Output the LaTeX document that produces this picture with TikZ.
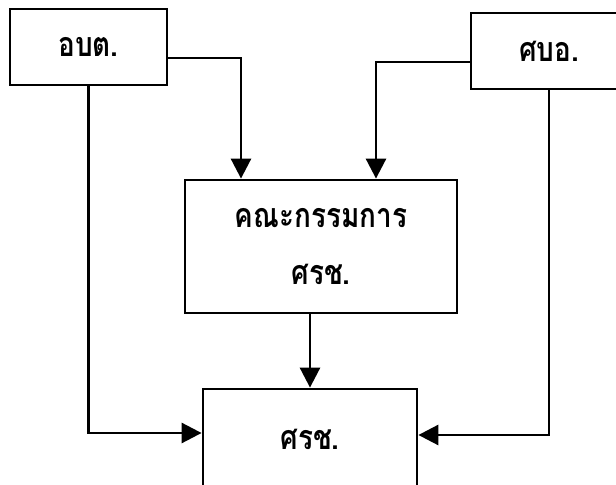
\documentclass[tikz,border=0pt]{standalone}
\usepackage{fontspec}
\newfontfamily\thaifont[Script=Thai,FakeStretch=0.82]{Loma}
\usetikzlibrary{positioning}
\usetikzlibrary{arrows.meta}

\begin{document}
\begin{tikzpicture}[x=0.5pt,y=-0.5pt,line width=1.4pt,
  box/.style={draw,line width=1.4pt,inner sep=0pt,align=center,
    font=\thaifont\bfseries\fontsize{17}{28.5}\selectfont},
  arr/.style={-{Triangle[width=10pt,length=10pt]}}]
  \useasboundingbox (0,0) rectangle (616,485);
  \node[box,minimum width=78.5pt,minimum height=38pt] (obt) at (88.5,47) {อบต.};
  \node[box,minimum width=78pt,minimum height=38pt] (sbo) at (549,51) {ศบอ.};
  \node[box,minimum width=136pt,minimum height=66.5pt] (krm) at (321,246.5) {คณะกรรมการ\\ศรช.};
  \node[box,minimum width=107pt,minimum height=50pt] (src) at (310,439) {ศรช.};
  \draw[arr] ([yshift=-5.5pt]obt.east) -| ([xshift=-40pt]krm.north);
  \draw[arr] ([yshift=-5.5pt]sbo.west) -| ([xshift=27.5pt]krm.north);
  \draw[arr] (krm.south -| src.north) -- (src.north);
  \draw[arr] (obt.south) |- ([yshift=3pt]src.west);
  \draw[arr] (sbo.south) |- ([yshift=2pt]src.east);
\end{tikzpicture}
\end{document}
